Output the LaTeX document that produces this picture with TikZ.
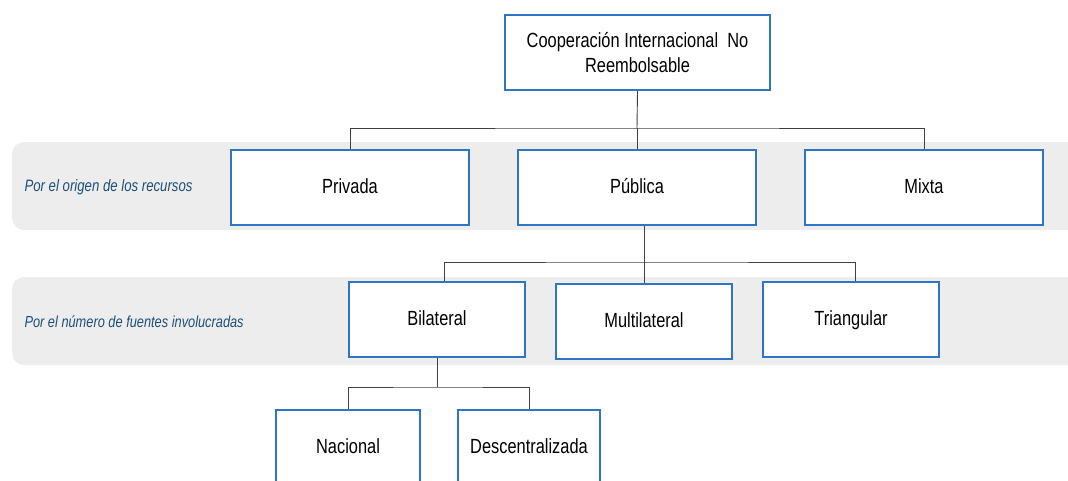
\documentclass[tikz,border=0pt]{standalone}
\usepackage{fontspec}
\setmainfont[FakeStretch=0.8]{Liberation Sans}
\definecolor{boxblue}{HTML}{2E75C6}
\definecolor{bandgray}{HTML}{EDEDED}
\definecolor{labelblue}{HTML}{1F4E79}
\definecolor{linegray}{HTML}{404040}
\begin{document}
\begin{tikzpicture}[x=1pt,y=-1pt,
  boxnode/.style={draw=boxblue,line width=1.6pt,fill=white,minimum width=#1,minimum height=75pt,inner sep=0pt,align=center,font=\fontsize{20.5}{25}\selectfont,text=black,text height=15pt,text depth=4pt},
  boxnode/.default=238pt,
  band/.style={fill=bandgray,rounded corners=12pt},
  bandlabel/.style={anchor=west,font=\fontsize{16.5}{20}\selectfont\itshape,text=labelblue},
  conn/.style={draw=linegray,line width=0.9pt}]
\useasboundingbox (0,0) rectangle (1068,480);
\begin{scope}
\clip (0,0) rectangle (1068,480);
% bands
\path[band] (12,142) rectangle (1090,230);
\path[band] (12,277) rectangle (1090,365);
\node[bandlabel] (l1) at (21,187) {Por el origen de los recursos};
\node[bandlabel,font=\fontsize{16}{20}\selectfont\itshape] (l2) at (21,322) {Por el número de fuentes involucradas};
% nodes
\node[boxnode=265pt,text height=,text depth=] (top) at (637.5,52.5) {Cooperación Internacional\ \ No\\Reembolsable};
\node[boxnode] (priv) at (350,187.5) {Privada};
\node[boxnode] (pub) at (637,187.5) {Pública};
\node[boxnode] (mix) at (924,187.5) {Mixta};
\node[boxnode=176pt] (bil) at (437,319.5) {Bilateral};
\node[boxnode=176pt] (mul) at (644,321.5) {Multilateral};
\node[boxnode=176pt] (tri) at (851,319.5) {Triangular};
\node[boxnode=144pt] (nac) at (348,447.5) {Nacional};
\node[boxnode=142pt] (des) at (529,447.5) {Descentralizada};
% connectors
\coordinate (j1) at (637,128);
\draw[conn] (top.south) -- (j1);
\draw[conn] (priv.north) |- (j1) -| (mix.north);
\draw[conn] (j1) -- (pub.north);
\coordinate (j2) at (644,262);
\draw[conn] (pub.south -| j2) -- (j2);
\draw[conn] (bil.north -| 444,0) |- (j2) -| (tri.north -| 855,0);
\draw[conn] (j2) -- (mul.north);
\coordinate (j3) at (437,387);
\draw[conn] (bil.south) -- (j3);
\draw[conn] (nac.north) |- (j3) -| (des.north);
\end{scope}
\end{tikzpicture}
\end{document}
